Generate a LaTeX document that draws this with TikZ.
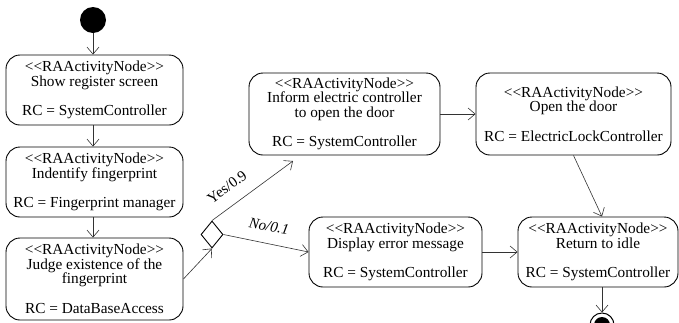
\documentclass[tikz,border=0pt]{standalone}
\usepackage{fontspec}
\setmainfont{Liberation Serif}[Ligatures=TeXOff]
\usetikzlibrary{arrows.meta,shapes.geometric,calc}
\begin{document}
\begin{tikzpicture}[x=1pt,y=-1pt,
  act/.style={draw, line width=0.9pt, rounded corners=14pt, align=center, inner sep=0pt,
              font=\fontsize{15.3}{14.5}\selectfont},
  flow/.style={draw=black!80, line width=0.6pt, -{Straight Barb[length=7pt,width=12pt]}},
  lbl/.style={font=\fontsize{15}{15}\selectfont, inner sep=0pt}]
\useasboundingbox (0,0) rectangle (679,322);
\node[circle, fill=black, minimum size=26pt, inner sep=0pt] (start) at (93,20) {};
\node[act, minimum width=177pt, minimum height=70pt] (b1) at (94.5,90)
  {<<RAActivityNode>>\\Show register screen\\[15pt]RC = SystemController};
\node[act, minimum width=177pt, minimum height=70pt] (b2) at (94.5,182)
  {<<RAActivityNode>>\\Indentify fingerprint\\[15pt]RC = Fingerprint manager};
\node[act, minimum width=177pt, minimum height=82pt] (b3) at (94.5,279)
  {<<RAActivityNode>>\\Judge existence of the\\fingerprint\\[15pt]RC = DataBaseAccess};
\node[diamond, draw, line width=0.9pt, minimum width=22pt, minimum height=27pt, inner sep=0pt] (dia) at (212,234.5) {};
\node[act, minimum width=191pt, minimum height=82pt] (inf) at (344.5,114)
  {<<RAActivityNode>>\\Inform electric controller\\to open the door\\[15pt]RC = SystemController};
\node[act, minimum width=195pt, minimum height=82pt] (open) at (573.5,114)
  {<<RAActivityNode>>\\Open the door\\[15pt]RC = ElectricLockController};
\node[act, minimum width=173pt, minimum height=70pt] (disp) at (395.5,252)
  {<<RAActivityNode>>\\Display error message\\[15pt]RC = SystemController};
\node[act, minimum width=160pt, minimum height=70pt] (ret) at (598,252)
  {<<RAActivityNode>>\\Return to idle\\[15pt]RC = SystemController};
\node[circle, draw, line width=1pt, minimum size=24pt, inner sep=0pt] (end) at (602,325) {};
\fill (end.center) circle (8pt);
\coordinate (yesend) at (293,161);
\draw[flow] (start) -- (start |- b1.north);
\draw[flow] (b1.south -| start) -- (b2.north -| start);
\draw[flow] (b2.south -| start) -- (b3.north -| start);
\draw[flow] (b3.east) -- (dia.south);
\draw[flow] (dia.north) -- (yesend);
\draw[flow] (dia.east) -- (disp.west);
\draw[flow] (inf.east) -- (open.west);
\draw[flow] (open.south) -- ($(ret.north)+(4,0)$);
\draw[flow] (disp.east) -- (ret.west);
\draw[flow] (ret.south -| end) -- (end.north);
\node[lbl, rotate=36] (yes) at (227,187) {Yes/0.9};
\node[lbl, rotate=-10] (no) at (269,226) {\itshape No/0.1};
\end{tikzpicture}
\end{document}
